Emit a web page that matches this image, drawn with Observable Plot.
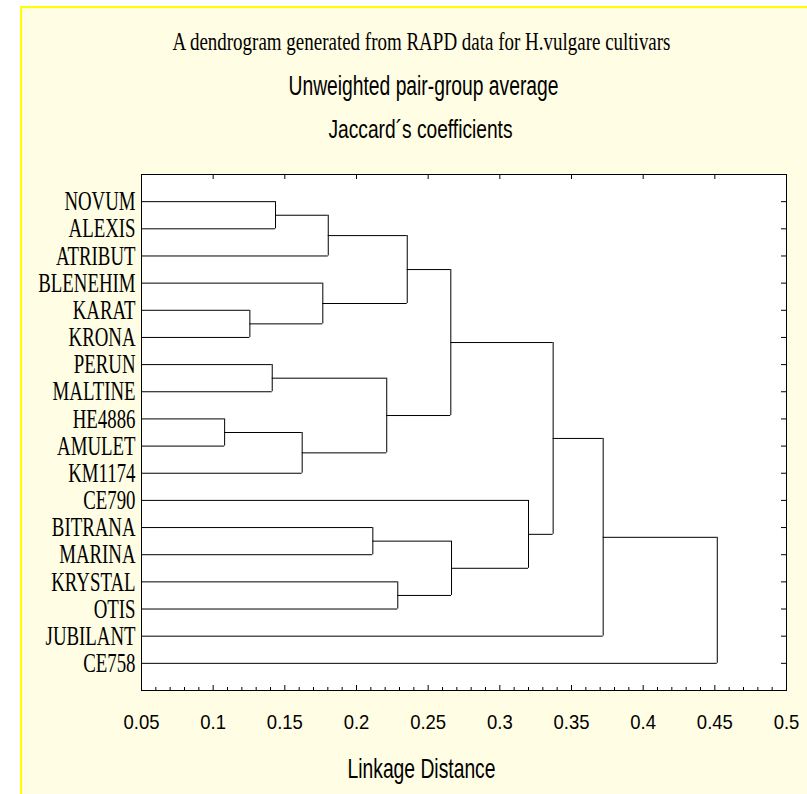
<!DOCTYPE html>
<html><head><meta charset="utf-8">
<script src="https://cdn.jsdelivr.net/npm/d3@7"></script>
<script src="https://cdn.jsdelivr.net/npm/@observablehq/plot@0.6"></script>
<style>
html,body{margin:0;padding:0;background:#fff;}
#wrap{position:relative;width:807px;height:794px;overflow:hidden;}
#panel{position:absolute;left:20px;top:6px;right:0;bottom:0;background:#fffde3;border-top:2px solid #ffff00;border-left:2px solid #ffff00;}
#chart{position:absolute;left:0;top:0;}
</style></head><body><div id="wrap"><div id="panel"></div><div id="chart"></div></div>
<script>
// Leaves, top to bottom
const leaves = ["NOVUM","ALEXIS","ATRIBUT","BLENEHIM","KARAT","KRONA","PERUN","MALTINE","HE4886","AMULET","KM1174","CE790","BITRANA","MARINA","KRYSTAL","OTIS","JUBILANT","CE758"];
// Merges (in order of linkage); "#k" refers to the cluster formed by merge k
const mergeA = ["HE4886","KARAT","PERUN","NOVUM","#0","BLENEHIM","#3","BITRANA","#2","KRYSTAL","#6","#10","#7","CE790","#11","#14","#15"];
const mergeB = ["AMULET","KRONA","MALTINE","ALEXIS","KM1174","#1","ATRIBUT","MARINA","#4","OTIS","#5","#8","#9","#12","#13","JUBILANT","CE758"];
const mergeHeight = [0.108,0.1256,0.1412,0.1435,0.1621,0.1765,0.1803,0.2114,0.2211,0.2288,0.2354,0.2658,0.2663,0.320,0.3372,0.3721,0.4517];
// Axis
const majorTicks = [0.05,0.1,0.15,0.2,0.25,0.3,0.35,0.4,0.45,0.5];
const tickLabels = ["0.05","0.1","0.15","0.2","0.25","0.3","0.35","0.4","0.45","0.5"];
const titleText = "A dendrogram generated from RAPD data for H.vulgare cultivars";
const subtitleText = "Unweighted pair-group average";
const subtitle2Text = "Jaccard\u00b4s coefficients";
const xLabel = "Linkage Distance";

const minorTicks = d3.range(5, 50).map(v => v / 100).filter(v => Math.round(v * 100) % 5 !== 0);

// Build dendrogram segments
const pos = new Map();
leaves.forEach((n, i) => pos.set(n, {x: majorTicks[0], y: i + 1}));
const vert = [], horiz = [];
mergeHeight.forEach((h, k) => {
  const a = pos.get(mergeA[k]), b = pos.get(mergeB[k]);
  vert.push({x: h, y1: a.y, y2: b.y});
  horiz.push({y: a.y, x1: a.x, x2: h}, {y: b.y, x1: b.x, x2: h});
  pos.set("#" + k, {x: h, y: (a.y + b.y) / 2});
});

const W = 807, H = 794, mL = 141, mR = 21, mT = 174, mB = 104;
const pw = W - mL - mR, ph = H - mT - mB;

const plot = Plot.plot({
  width: W, height: H,
  marginLeft: mL, marginRight: mR, marginTop: mT, marginBottom: mB,
  style: {background: "transparent", overflow: "visible"},
  x: {domain: [majorTicks[0], majorTicks[majorTicks.length - 1]], axis: null},
  y: {domain: [0, leaves.length + 1], reverse: true, axis: null},
  marks: [
    Plot.frame({fill: "white"}),
    Plot.ruleY(horiz, {y: "y", x1: "x1", x2: "x2", stroke: "#000", strokeWidth: 1}),
    Plot.ruleX(vert, {x: "x", y1: "y1", y2: "y2", stroke: "#000", strokeWidth: 1}),
    Plot.tickX(majorTicks, {x: d => d, insetTop: ph - 5, stroke: "#000"}),
    Plot.tickX(majorTicks, {x: d => d, insetBottom: ph - 5, stroke: "#000"}),
    Plot.tickX(minorTicks, {x: d => d, insetTop: ph - 3, stroke: "#000"}),
    Plot.tickY(leaves, {y: (d, i) => i + 1, insetLeft: pw - 5, stroke: "#000"}),
    Plot.frame({stroke: "#000"}),
    Plot.text(leaves, {y: (d, i) => i + 1, frameAnchor: "left", lineAnchor: "middle", textAnchor: "end", dx: -6,
      fontSize: 27, fontFamily: "Liberation Serif", fill: "#000"}),
    Plot.text(majorTicks, {x: d => d, text: (d, i) => tickLabels[i], frameAnchor: "bottom", lineAnchor: "middle", dy: 32,
      fontSize: 21, fontFamily: "Liberation Sans", fill: "#000"}),
    Plot.text([titleText], {frameAnchor: "top", lineAnchor: "middle", dx: -42.5, dy: -132.5,
      fontSize: 25, fontFamily: "Liberation Serif", fill: "#000"}),
    Plot.text([subtitleText], {frameAnchor: "top", lineAnchor: "middle", dx: -40.5, dy: -88.6,
      fontSize: 27, fontFamily: "Liberation Sans", fill: "#000"}),
    Plot.text([subtitle2Text], {frameAnchor: "top", lineAnchor: "middle", dx: -43.5, dy: -45.3,
      fontSize: 26, fontFamily: "Liberation Sans", fill: "#000"}),
    Plot.text([xLabel], {frameAnchor: "bottom", lineAnchor: "middle", dx: -42.5, dy: 79,
      fontSize: 28, fontFamily: "Liberation Sans", fill: "#000"})
  ]
});
document.getElementById("chart").append(plot);

// Condense glyphs horizontally (the reference uses narrow faces)
const fixedWidths = new Map([[titleText, 498], [subtitleText, 270], [subtitle2Text, 184], [xLabel, 148]]);
const leafSet = new Set(leaves), tickSet = new Set(tickLabels);
d3.select(plot).selectAll("text").each(function () {
  const t = this.textContent;
  let w = null;
  if (fixedWidths.has(t)) w = fixedWidths.get(t);
  else if (leafSet.has(t)) w = this.getComputedTextLength() * 0.697;
  else if (tickSet.has(t)) w = this.getComputedTextLength() * 0.88;
  if (w != null) {
    this.setAttribute("textLength", w);
    this.setAttribute("lengthAdjust", "spacingAndGlyphs");
  }
});
</script></body></html>
